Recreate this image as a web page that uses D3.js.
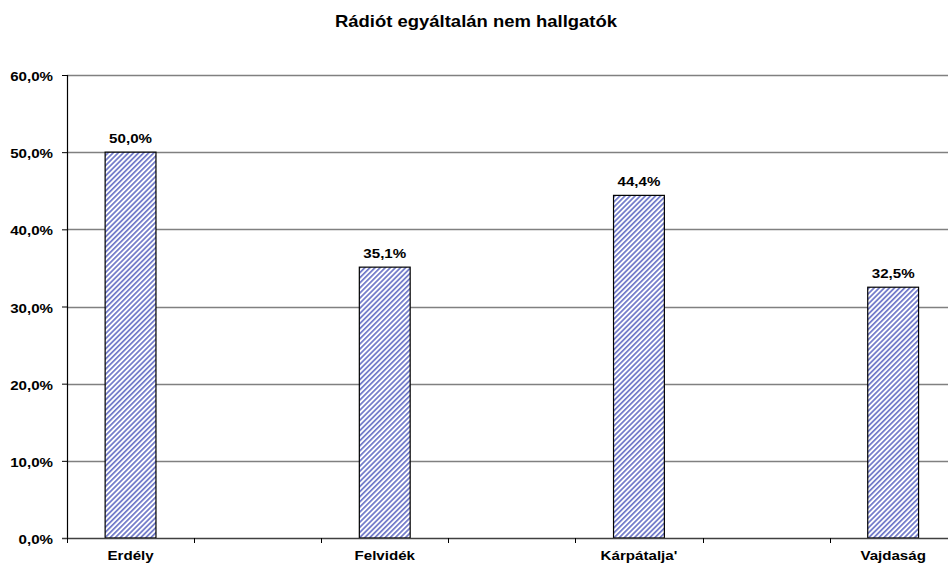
<!DOCTYPE html>
<html>
<head>
<meta charset="utf-8">
<script src="https://cdn.jsdelivr.net/npm/d3@7"></script>
<style>
  html, body { margin: 0; padding: 0; background: #fff; overflow: hidden; }
  svg { display: block; font-family: "Liberation Sans", Arial, sans-serif; }
</style>
</head>
<body>
<svg id="chart" width="948" height="565"></svg>
<script>
// Category slots along the x axis; empty slots leave gaps between regions
const categories = ["Erdély", "", "Felvidék", "", "Kárpátalja'", "", "Vajdaság", ""];
const values = [50.0, null, 35.1, null, 44.4, null, 32.5, null];
const yTicks = [0, 10, 20, 30, 40, 50, 60];
const title = "Rádiót egyáltalán nem hallgatók";

const fmt = v => v.toFixed(1).replace(".", ",") + "%";

const svg = d3.select("#chart");
const plotLeft = 67, plotTop = 75, plotBottom = 538;
const slotWidth = 127.1;
const plotRight = plotLeft + slotWidth * categories.length;
const labelStretch = 1.12;   // slightly widened lettering used for all labels
const labelSize = 13.5;

const x = d3.scaleBand()
  .domain(d3.range(categories.length))
  .range([plotLeft, plotRight])
  .paddingInner(0.6)
  .paddingOuter(0.3);
const y = d3.scaleLinear().domain([0, 60]).range([plotBottom, plotTop]);

// Place a bold, horizontally widened text at (px, py)
function wideText(g, px, py, str, anchor, size, stretch) {
  return g.append("text")
    .attr("transform", `translate(${px},${py}) scale(${stretch},1)`)
    .attr("text-anchor", anchor)
    .attr("font-size", size).attr("font-weight", "bold")
    .attr("fill", "#000")
    .text(str);
}

// Diagonal hatch fill for the bars
const defs = svg.append("defs");
const pat = defs.append("pattern")
  .attr("id", "hatch")
  .attr("patternUnits", "userSpaceOnUse")
  .attr("width", 3.6).attr("height", 3.6)
  .attr("patternTransform", "rotate(45)");
pat.append("rect").attr("width", 3.6).attr("height", 3.6).attr("fill", "#ffffff");
pat.append("rect").attr("width", 1.7).attr("height", 3.6).attr("fill", "#6f78c8");

// Title
wideText(svg, 476, 27, title, "middle", 16.5, 1.12);

// Horizontal gridlines
svg.append("g")
  .selectAll("line")
  .data(yTicks.filter(t => t > 0))
  .join("line")
  .attr("x1", plotLeft).attr("x2", plotRight)
  .attr("y1", d => Math.round(y(d)) + 0.5).attr("y2", d => Math.round(y(d)) + 0.5)
  .attr("stroke", "#808080").attr("stroke-width", 1.5);

// Y axis line and ticks
const yAxis = d3.axisLeft(y).tickValues(yTicks).tickSize(5).tickFormat("");
const gy = svg.append("g").attr("transform", `translate(${plotLeft},0)`).call(yAxis);
gy.select(".domain").attr("stroke", "#000").attr("stroke-width", 1.2);
gy.selectAll(".tick line").attr("stroke", "#000");

// Y tick labels
const gyl = svg.append("g");
yTicks.forEach(t => wideText(gyl, 53, y(t) + 6, fmt(t), "end", labelSize, labelStretch));

// Bars
const bars = categories.map((c, i) => ({ i, c, v: values[i] })).filter(d => d.v != null);
svg.append("g")
  .selectAll("rect")
  .data(bars)
  .join("rect")
  .attr("x", d => x(d.i))
  .attr("y", d => y(d.v))
  .attr("width", x.bandwidth())
  .attr("height", d => y(0) - y(d.v))
  .attr("fill", "url(#hatch)")
  .attr("stroke", "#000").attr("stroke-width", 1.2);

// Value labels
const gv = svg.append("g");
bars.forEach(d => wideText(gv, x(d.i) + x.bandwidth() / 2, y(d.v) - 9, fmt(d.v), "middle", labelSize, labelStretch));

// X axis line with slot boundary ticks
const xs = d3.scaleLinear().domain([0, categories.length]).range([plotLeft, plotRight]);
svg.append("line")
  .attr("x1", plotLeft - 5).attr("x2", plotRight)
  .attr("y1", plotBottom + 0.5).attr("y2", plotBottom + 0.5)
  .attr("stroke", "#404040").attr("stroke-width", 1.5);
svg.append("g")
  .selectAll("line")
  .data(d3.range(categories.length + 1))
  .join("line")
  .attr("x1", d => Math.round(xs(d)) + 0.5).attr("x2", d => Math.round(xs(d)) + 0.5)
  .attr("y1", plotBottom).attr("y2", plotBottom + 5)
  .attr("stroke", "#000");

// Category labels
const gx = svg.append("g");
bars.forEach(d => wideText(gx, x(d.i) + x.bandwidth() / 2, 560, d.c, "middle", labelSize, labelStretch));
</script>
</body>
</html>
